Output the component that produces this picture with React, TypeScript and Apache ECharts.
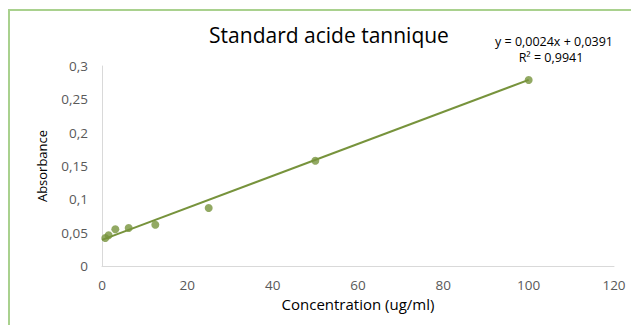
import React, { useEffect, useRef } from "react";
import * as echarts from "echarts";

const concentrations = [0.78, 1.56, 3.125, 6.25, 12.5, 25, 50, 100];
const absorbances = [0.042, 0.046, 0.055, 0.057, 0.062, 0.087, 0.158, 0.279];
const slope = 0.0024;
const intercept = 0.0391;
const trendX = [0, 100];
const titleText = "Standard acide tannique";
const equationText = "y = 0,0024x + 0,0391";
const r2Text = "R² = 0,9941";
const xName = "Concentration (ug/ml)";
const yName = "Absorbance";

const fmt = (v: number) => String(v).replace(".", ",");

export default function App() {
  const ref = useRef<HTMLDivElement>(null);
  useEffect(() => {
    const chart = echarts.init(ref.current!, null, { renderer: "svg" });
    const font = "'Open Sans', 'Noto Sans', sans-serif";
    const green = "#77933C";
    const border = "#A9D18E";
    chart.setOption({
      animation: false,
      backgroundColor: "#ffffff",
      textStyle: { fontFamily: font },
      title: {
        text: titleText,
        left: 324,
        textAlign: "center",
        top: 19,
        textStyle: { fontFamily: font, fontSize: 21, fontWeight: "normal", color: "#000000" },
      },
      graphic: [
        { type: "line", shape: { x1: 9, y1: 9, x2: 9, y2: 325 }, style: { stroke: border, lineWidth: 2 } },
        { type: "line", shape: { x1: 8, y1: 10, x2: 631, y2: 10 }, style: { stroke: border, lineWidth: 2 } },
        {
          type: "text",
          x: 554,
          y: 41,
          style: { text: equationText, fontFamily: font, fontSize: 12.5, fill: "#000000", align: "center", verticalAlign: "middle" },
        },
        {
          type: "text",
          x: 551,
          y: 57,
          style: { text: r2Text, fontFamily: font, fontSize: 12.5, fill: "#000000", align: "center", verticalAlign: "middle" },
        },
      ],
      grid: { left: 102, right: 17, top: 66, bottom: 59, containLabel: false },
      xAxis: {
        type: "value",
        min: 0,
        max: 120,
        interval: 20,
        name: xName,
        nameLocation: "middle",
        nameGap: 30,
        nameTextStyle: { fontFamily: font, fontSize: 15, color: "#000000" },
        axisLine: { show: true, lineStyle: { color: "#D9D9D9", width: 1 } },
        axisTick: { show: false },
        splitLine: { show: false },
        axisLabel: { fontFamily: font, fontSize: 13.5, color: "#595959", margin: 12, formatter: fmt },
      },
      yAxis: {
        type: "value",
        min: 0,
        max: 0.3,
        interval: 0.05,
        name: yName,
        nameLocation: "middle",
        nameGap: 54,
        nameTextStyle: { fontFamily: font, fontSize: 13, color: "#000000" },
        axisLine: { show: true, lineStyle: { color: "#D9D9D9", width: 1 } },
        axisTick: { show: false },
        splitLine: { show: false },
        axisLabel: { fontFamily: font, fontSize: 13.5, color: "#595959", margin: 14, formatter: fmt },
      },
      series: [
        {
          type: "line",
          data: trendX.map((x) => [x, slope * x + intercept]),
          showSymbol: false,
          symbol: "none",
          lineStyle: { color: green, width: 2 },
          silent: true,
          z: 2,
        },
        {
          type: "scatter",
          data: concentrations.map((c, i) => [c, absorbances[i]]),
          symbol: "circle",
          symbolSize: 8,
          itemStyle: { color: green },
          z: 3,
        },
      ],
    });
    return () => chart.dispose();
  }, []);
  return <div ref={ref} style={{ position: "fixed", left: 0, top: 0, width: 631, height: 325 }} />;
}
